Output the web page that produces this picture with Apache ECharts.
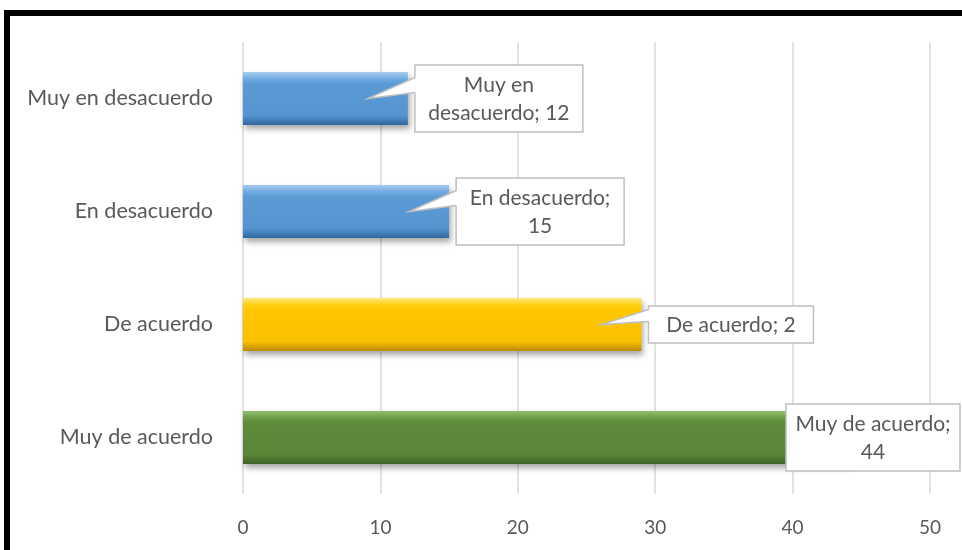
<!DOCTYPE html>
<html>
<head>
<meta charset="utf-8">
<script src="https://cdn.jsdelivr.net/npm/echarts@6/dist/echarts.min.js"></script>
<style>html,body{margin:0;padding:0;background:#fff}#c{width:962px;height:550px}</style>
</head>
<body>
<div id="c"></div>
<script>
// ---- data ----
const categories = ['Muy de acuerdo', 'De acuerdo', 'En desacuerdo', 'Muy en desacuerdo'];
const values = [44, 29, 15, 12];
const labelTexts = ['Muy de acuerdo;\n44', 'De acuerdo; 2', 'En desacuerdo;\n15', 'Muy en\ndesacuerdo; 12'];
const xTicks = [0, 10, 20, 30, 40, 50];

// ---- styling ----
const FONT = 'Lato';
const TXT = '#595959';
const barColors = [
  ['#8ec36b', '#6e9e48', '#5e8a3a', '#5a8637', '#3e6226'],
  ['#ffe680', '#ffd21a', '#ffc800', '#f8c000', '#b88a00'],
  ['#a9cdf0', '#74ade3', '#5b9bd5', '#5594d0', '#2f679d'],
  ['#a9cdf0', '#74ade3', '#5b9bd5', '#5594d0', '#2f679d']
];
const boxW = [174, 165, 168, 168];
const chartRightEdge = 960;

function grad(c) {
  return new echarts.graphic.LinearGradient(0, 0, 0, 1, [
    {offset: 0, color: c[0]}, {offset: 0.12, color: c[1]}, {offset: 0.22, color: c[2]},
    {offset: 0.82, color: c[3]}, {offset: 1, color: c[4]}
  ]);
}

const chart = echarts.init(document.getElementById('c'), null, {renderer: 'canvas'});
chart.setOption({
  animation: false,
  backgroundColor: '#fff',
  grid: {left: 243, right: 32, top: 42, bottom: 56, containLabel: false},
  xAxis: {
    type: 'value', min: xTicks[0], max: xTicks[xTicks.length - 1], interval: 10,
    axisLine: {show: false}, axisTick: {show: false},
    splitLine: {show: true, lineStyle: {color: '#d9d9d9', width: 1.5}},
    axisLabel: {color: TXT, fontFamily: FONT, fontSize: 19, margin: 24}
  },
  yAxis: {
    type: 'category', data: categories,
    axisLine: {show: false}, axisTick: {show: false},
    axisLabel: {color: TXT, fontFamily: FONT, fontSize: 21.5, margin: 30}
  },
  series: [
    {
      type: 'bar', barWidth: '47%',
      data: values.map((v, i) => ({
        value: v,
        itemStyle: {
          color: grad(barColors[i]),
          shadowColor: 'rgba(0,0,0,0.35)', shadowBlur: 6, shadowOffsetX: 2, shadowOffsetY: 4
        }
      })),
      z: 2
    },
    {
      type: 'custom', z: 5, clip: false,
      data: values.map((v, i) => [v, i]),
      encode: {x: 0, y: 1},
      renderItem: function (params, api) {
        const i = params.dataIndex;
        const end = api.coord([api.value(0), api.value(1)]);
        const text = labelTexts[i];
        const lines = text.split('\n').length;
        const w = boxW[i];
        const h = lines === 2 ? 67 : 37;
        let left = Math.min(end[0] + 7, chartRightEdge - w);
        const top = end[1] - h / 2;
        const tip = [end[0] - 40, end[1]];
        const children = [{
          type: 'rect', shape: {x: left, y: top, width: w, height: h},
          style: {fill: '#fff', stroke: '#bfbfbf', lineWidth: 1.5}
        }];
        if (tip[0] < left - 4) {
          const p1 = [left, end[1] - (lines === 2 ? 21 : 15)];
          const p2 = [left, end[1] - (lines === 2 ? 6 : 3)];
          children.push({
            type: 'polygon', shape: {points: [tip, [p1[0] + 1.5, p1[1]], [p2[0] + 1.5, p2[1]]]},
            style: {fill: '#fff', stroke: null}
          });
          children.push({
            type: 'polyline', shape: {points: [p1, tip, p2]},
            style: {fill: null, stroke: '#bfbfbf', lineWidth: 1.5}
          });
        }
        children.push({
          type: 'text',
          style: {
            text: text, x: left + w / 2, y: end[1] + 1, align: 'center', verticalAlign: 'middle',
            fill: TXT, font: '21px ' + FONT, lineHeight: 28
          }
        });
        return {type: 'group', children: children};
      }
    }
  ],
  graphic: [{
    type: 'rect', z: 100, silent: true,
    shape: {x: 7, y: 13, width: 1000, height: 600},
    style: {fill: null, stroke: '#000', lineWidth: 6}
  }]
});
</script>
</body>
</html>
